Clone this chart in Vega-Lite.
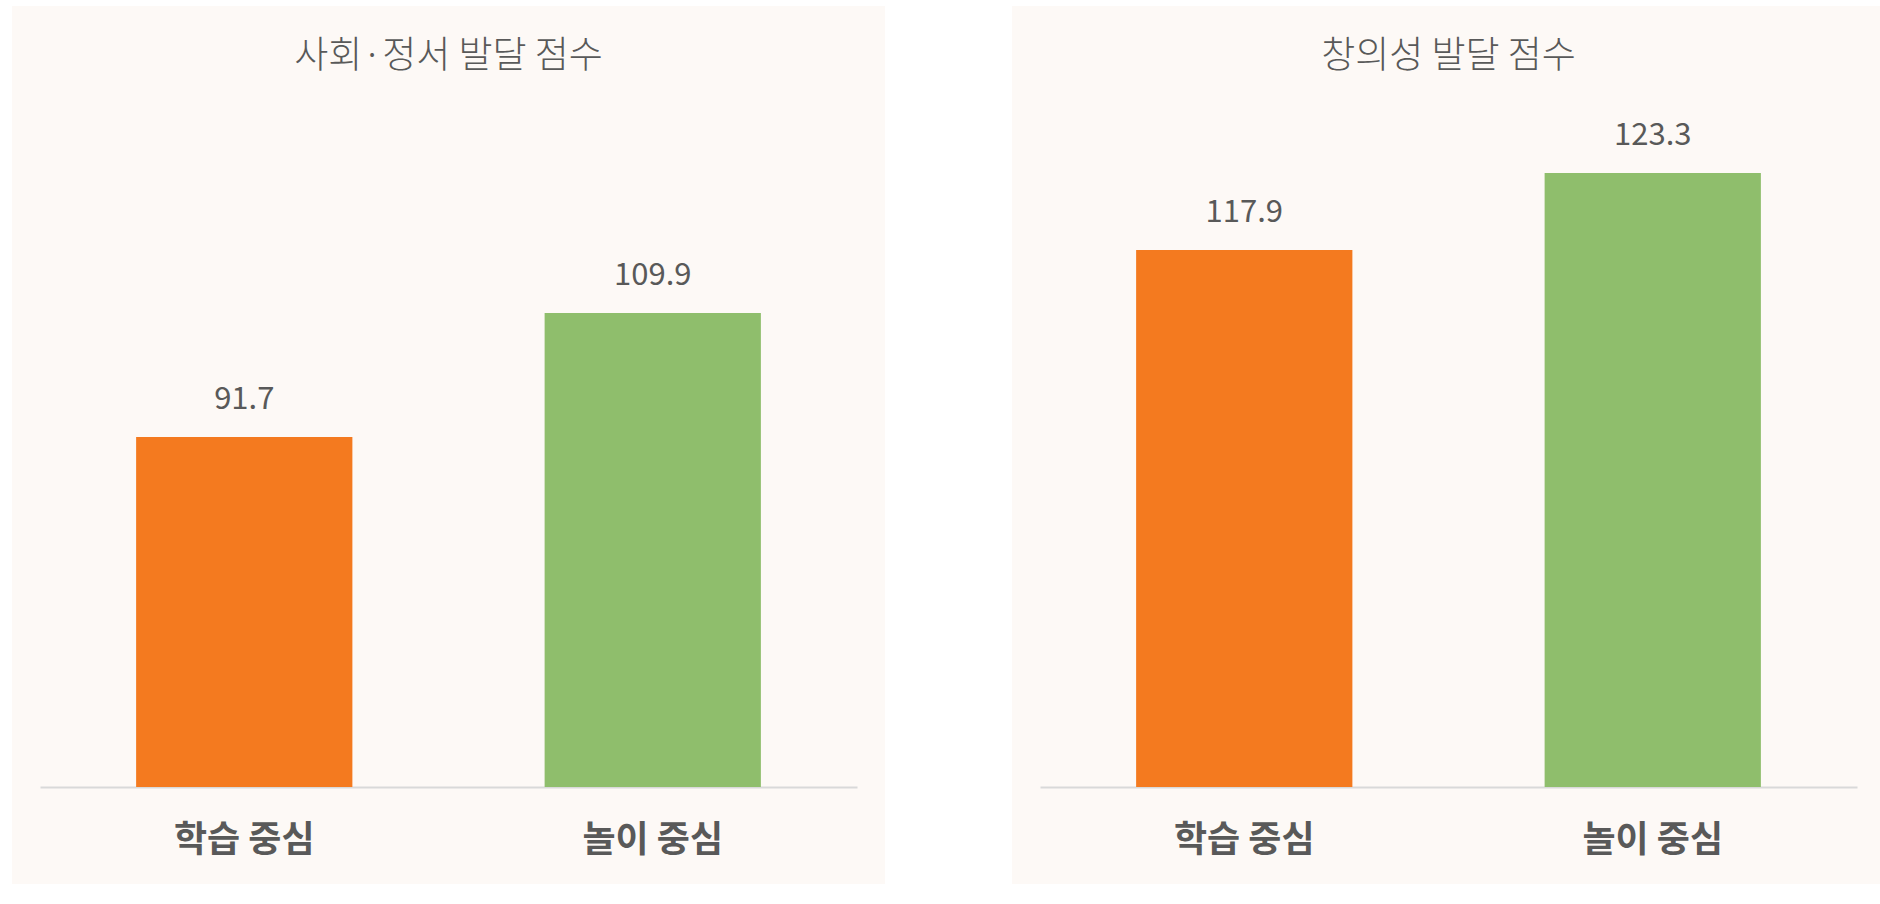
{
  "$schema": "https://vega.github.io/schema/vega-lite/v6.json",
  "padding": {"left": 12, "top": 6, "right": 0, "bottom": 0},
  "background": "white",
  "bounds": "flush",
  "spacing": 183,
  "config": {
    "view": {"fill": "#fdf9f6", "stroke": "#fdf9f6", "strokeWidth": 56},
    "font": "Noto Sans CJK KR"
  },
  "data": {
    "values": [
      {"metric": "사회·정서 발달 점수", "group": "학습 중심", "value": 91.7},
      {"metric": "사회·정서 발달 점수", "group": "놀이 중심", "value": 109.9},
      {"metric": "창의성 발달 점수", "group": "학습 중심", "value": 117.9},
      {"metric": "창의성 발달 점수", "group": "놀이 중심", "value": 123.3}
    ]
  },
  "hconcat": [
    {
      "width": 817,
      "height": 822,
      "title": {"text": "사회·정서 발달 점수", "fontSize": 37, "fontWeight": 300, "color": "#595959", "offset": -60, "baseline": "middle", "anchor": "middle"},
      "transform": [{"filter": "datum.metric === '사회·정서 발달 점수'"}],
      "encoding": {
        "x": {
          "field": "group", "type": "nominal", "sort": ["학습 중심", "놀이 중심"],
          "scale": {"paddingInner": 0.4706, "paddingOuter": 0.2353},
          "axis": {"title": null, "offset": -69, "ticks": false, "domainColor": "#d9d9d9", "domainWidth": 2, "labelFontSize": 36, "labelFontWeight": "bold", "labelColor": "#595959", "labelPadding": 36, "labelAngle": 0}
        }
      },
      "layer": [
        {
          "mark": {"type": "bar"},
          "encoding": {
            "y": {"field": "value", "type": "quantitative", "scale": {"domain": [30.2, 150.85], "nice": false, "zero": false}, "axis": null},
            "y2": {"datum": 40.33},
            "color": {"field": "group", "type": "nominal", "scale": {"domain": ["학습 중심", "놀이 중심"], "range": ["#f47a1f", "#8fbe6c"]}, "legend": null}
          }
        },
        {
          "mark": {"type": "text", "baseline": "middle", "dy": -37, "fontSize": 31, "color": "#595959"},
          "encoding": {
            "y": {"field": "value", "type": "quantitative"},
            "text": {"field": "value", "type": "quantitative", "format": ".1f"}
          }
        }
      ]
    },
    {
      "width": 817,
      "height": 822,
      "title": {"text": "창의성 발달 점수", "fontSize": 37, "fontWeight": 300, "color": "#595959", "offset": -60, "baseline": "middle", "anchor": "middle"},
      "transform": [{"filter": "datum.metric === '창의성 발달 점수'"}],
      "encoding": {
        "x": {
          "field": "group", "type": "nominal", "sort": ["학습 중심", "놀이 중심"],
          "scale": {"paddingInner": 0.4706, "paddingOuter": 0.2353},
          "axis": {"title": null, "offset": -69, "ticks": false, "domainColor": "#d9d9d9", "domainWidth": 2, "labelFontSize": 36, "labelFontWeight": "bold", "labelColor": "#595959", "labelPadding": 36, "labelAngle": 0}
        }
      },
      "layer": [
        {
          "mark": {"type": "bar"},
          "encoding": {
            "y": {"field": "value", "type": "quantitative", "scale": {"domain": [75.4, 133.05], "nice": false, "zero": false}, "axis": null},
            "y2": {"datum": 80.24},
            "color": {"field": "group", "type": "nominal", "scale": {"domain": ["학습 중심", "놀이 중심"], "range": ["#f47a1f", "#8fbe6c"]}, "legend": null}
          }
        },
        {
          "mark": {"type": "text", "baseline": "middle", "dy": -37, "fontSize": 31, "color": "#595959"},
          "encoding": {
            "y": {"field": "value", "type": "quantitative"},
            "text": {"field": "value", "type": "quantitative", "format": ".1f"}
          }
        }
      ]
    }
  ]
}
